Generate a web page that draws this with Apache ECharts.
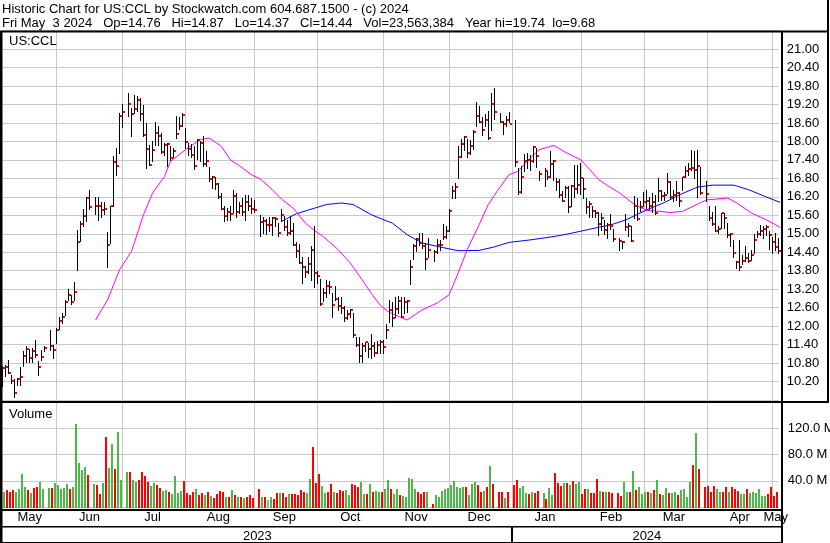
<!DOCTYPE html>
<html><head><meta charset="utf-8">
<script src="https://cdn.jsdelivr.net/npm/echarts@6/dist/echarts.min.js"></script>
<style>html,body{margin:0;padding:0;background:#fff;overflow:hidden;width:830px;height:543px}#c{width:870px;height:543px}</style>
</head><body><div id="c"></div>
<script>
// ---------- DATA ----------
const monthNames = ['Jan','Feb','Mar','Apr','May','Jun','Jul','Aug','Sep','Oct','Nov','Dec'];
const firstDay = [2023, 4, 8];   // May 8 2023
const lastDay = [2024, 4, 3];    // May 3 2024
const holidays = ['2023-05-29','2023-06-19','2023-07-04','2023-09-04','2023-11-23','2023-12-25','2024-01-01','2024-01-15','2024-02-19','2024-03-29'];

const high = [10.69,10.74,10.90,10.40,10.28,10.33,10.67,11.18,11.36,11.25,11.28,11.55,10.87,11.23,11.37,null,11.88,11.39,11.93,12.29,
12.42,12.85,13.20,13.02,13.42,15.13,15.40,15.80,16.21,16.43,null,16.19,16.19,16.02,16.04,15.06,15.91,17.53,17.78,18.92,
19.22,null,19.57,19.08,19.52,19.46,19.41,19.19,18.60,17.89,18.02,18.62,18.49,18.27,17.95,17.95,17.84,17.78,18.83,18.79,
18.92,18.43,17.95,17.92,17.84,18.08,18.00,18.18,17.68,17.17,16.88,16.86,16.65,16.32,15.91,15.83,15.89,16.43,16.32,16.04,
16.15,16.27,16.27,16.16,16.10,null,15.62,15.56,15.48,15.56,15.54,15.56,15.35,15.80,15.58,15.45,15.58,15.35,14.72,14.67,
14.26,13.94,14.26,14.59,15.26,13.78,13.53,13.23,13.50,13.47,13.07,13.31,12.96,12.96,12.64,12.53,12.55,12.42,11.66,11.64,
11.45,11.50,11.45,11.74,11.50,11.52,11.55,11.55,12.06,12.85,12.77,12.96,12.98,12.96,12.96,12.85,14.15,14.67,14.86,15.02,
15.02,14.70,14.86,null,14.48,14.83,14.80,15.32,15.24,15.80,16.56,16.65,17.86,18.08,18.18,18.08,18.06,18.36,19.27,19.14,
18.79,18.90,18.98,19.57,19.74,null,18.92,18.65,18.83,18.94,null,18.70,17.13,17.21,17.60,17.62,17.57,17.86,17.78,17.05,
null,17.13,17.00,17.68,17.40,16.81,16.78,16.38,16.54,16.54,16.59,17.24,17.24,17.30,16.81,16.16,16.05,15.89,15.78,15.72,
15.67,15.45,15.35,15.65,15.15,null,14.86,14.75,15.65,15.35,15.24,16.23,16.16,16.05,16.37,16.43,16.21,16.32,16.27,16.81,
16.43,16.35,16.97,16.70,16.43,16.70,16.37,16.86,17.21,17.30,17.71,17.68,17.73,17.17,null,16.70,15.91,15.72,15.89,15.24,
15.67,15.69,15.35,15.02,14.80,14.10,14.80,14.32,14.59,14.37,14.46,15.00,15.08,15.29,15.24,15.29,15.10,14.91,15.02,14.87];

const low = [10.04,10.38,10.47,10.15,9.69,10.09,10.08,10.69,10.82,10.82,10.82,11.01,10.41,10.90,11.20,null,11.23,10.96,11.45,11.90,
12.10,12.37,12.85,12.72,12.85,13.83,14.75,15.24,15.40,15.82,null,15.65,15.45,15.56,15.63,13.92,14.70,15.91,16.90,17.64,
18.47,null,18.83,18.16,18.92,18.98,18.70,18.18,17.13,17.24,17.35,17.89,17.89,17.62,17.57,17.21,17.40,17.49,18.11,18.40,
18.51,17.78,17.57,17.49,17.10,17.43,17.35,17.21,17.19,16.70,16.48,16.47,16.16,15.80,15.40,15.45,15.45,15.67,15.56,15.67,
15.62,15.45,15.78,15.69,15.72,null,14.93,15.02,15.00,15.08,14.97,15.24,14.93,15.40,15.13,14.97,15.00,14.64,14.26,14.05,
13.40,13.61,13.72,13.50,13.27,13.40,12.68,12.80,12.96,13.07,12.29,12.85,12.53,12.42,12.18,12.23,12.29,11.66,11.34,10.85,
10.85,11.18,11.01,10.96,11.03,11.12,11.12,11.12,11.61,12.15,12.01,12.31,12.44,12.29,12.42,12.45,13.37,14.17,14.43,14.64,
14.53,13.86,14.26,null,14.13,14.37,14.46,14.83,14.86,15.08,16.16,16.16,16.80,17.51,17.73,17.48,17.60,17.75,18.49,18.62,
18.22,18.49,18.08,18.36,18.73,null,18.62,18.25,18.49,18.62,null,17.21,16.30,16.32,17.03,17.13,17.08,17.32,17.17,16.75,
null,16.54,16.78,16.84,16.75,16.43,16.21,16.05,16.21,15.72,15.90,16.21,16.32,16.29,16.16,15.67,15.56,15.56,15.54,14.97,
15.13,15.00,14.86,15.15,14.78,null,14.46,14.53,15.13,14.93,14.75,15.50,15.45,15.75,15.89,15.83,15.80,15.72,15.65,16.05,
16.10,16.10,16.32,16.16,16.05,16.10,15.89,16.43,16.86,16.92,17.08,16.81,16.19,16.30,null,16.08,15.45,15.30,15.08,15.02,
15.18,15.18,14.91,14.59,14.26,13.88,13.81,14.02,14.10,14.07,14.15,14.37,14.91,14.97,14.86,14.97,14.50,14.37,14.48,14.37];

const close = [10.63,10.67,10.49,10.23,9.84,10.29,10.36,11.03,11.27,10.95,11.20,11.06,10.67,11.01,11.28,null,11.37,11.24,11.86,12.18,
12.31,12.77,13.02,12.77,13.10,14.72,15.32,15.58,16.15,15.86,null,15.91,15.89,15.76,15.82,14.62,15.89,17.32,17.19,18.83,
18.96,null,19.22,18.88,19.05,19.33,18.90,18.22,17.76,17.24,17.73,18.26,18.16,17.66,17.89,17.93,17.47,17.68,18.23,18.51,
18.85,17.99,17.75,17.57,17.19,18.03,17.95,17.27,17.38,16.79,16.83,16.61,16.18,15.82,15.58,15.71,15.65,16.23,15.71,15.91,
15.71,16.04,15.89,15.82,15.76,null,15.37,15.43,15.29,15.29,15.50,15.48,15.03,15.62,15.21,15.03,15.08,14.65,14.43,14.06,
13.91,13.76,14.01,14.46,13.74,13.63,12.72,13.09,13.31,13.26,12.70,12.89,12.66,12.59,12.26,12.38,12.51,11.70,11.39,11.03,
11.37,11.47,11.27,11.37,11.14,11.39,11.47,11.31,11.89,12.53,12.28,12.57,12.80,12.29,12.79,12.81,13.91,14.59,14.83,14.70,
14.59,14.19,14.48,null,14.41,14.62,14.65,14.91,15.08,15.75,16.38,16.51,17.48,17.92,18.13,17.64,17.84,18.29,18.81,18.62,
18.38,18.70,18.10,19.20,18.94,null,18.62,18.56,18.68,18.55,null,17.32,16.36,16.86,17.36,17.40,17.38,17.81,17.53,16.95,
null,17.03,16.86,17.27,17.35,16.67,16.27,16.08,16.48,15.87,16.56,16.46,16.59,16.80,16.45,15.86,15.97,15.73,15.69,15.32,
15.51,15.13,15.28,15.24,14.83,null,14.78,14.72,15.22,15.26,14.78,15.91,15.48,15.86,16.02,16.08,15.89,16.02,15.67,16.38,
16.23,16.25,16.68,16.19,16.27,16.32,16.08,16.86,17.03,17.10,17.13,17.06,17.19,16.34,null,16.29,15.51,15.32,15.08,15.14,
15.67,15.51,14.96,14.99,14.37,14.07,13.91,14.12,14.21,14.12,14.32,14.80,15.00,15.10,15.16,15.22,14.95,14.72,14.58,14.44];

// volume in millions of shares
const volume = [28.0,23.5,26.1,23.5,26.1,23.5,27.7,50.9,30.8,26.1,21.5,29.2,30.8,38.5,27.7,null,29.2,29.2,36.9,33.8,
27.7,29.2,35.4,27.7,30.8,126.7,66.4,57.1,61.7,49.3,null,35.4,33.8,19.9,36.9,106.6,60.2,95.7,58.6,114.3,
41.6,null,54.0,54.0,41.6,38.5,41.6,54.0,47.8,38.5,32.3,36.9,33.8,29.2,24.6,26.1,23.0,19.9,47.8,21.5,
24.6,40.0,21.5,18.4,23.0,27.7,18.4,21.5,18.4,23.0,16.8,13.7,19.9,24.6,23.0,15.3,15.3,26.1,18.4,15.3,
15.3,13.7,15.3,18.4,13.7,null,27.7,15.3,15.3,10.6,15.3,12.2,21.5,21.5,21.5,15.3,19.9,19.9,19.9,18.4,
26.1,23.0,21.5,43.1,91.1,36.9,50.9,32.3,21.5,23.0,35.4,23.0,21.5,26.1,24.6,26.1,18.4,35.4,33.8,30.8,
38.5,19.9,19.9,35.4,23.0,24.6,23.0,23.0,27.7,41.6,27.7,19.9,27.7,18.4,16.8,15.3,44.7,43.1,27.7,23.0,
19.9,23.0,23.0,null,4.4,18.4,15.3,24.6,27.7,29.2,33.8,40.0,30.8,29.2,30.8,30.8,18.4,35.4,38.5,33.8,
23.0,24.6,30.8,61.9,35.4,null,23.0,23.0,13.7,23.0,null,33.8,41.6,29.2,32.3,21.5,20.0,23.0,22.0,24.0,
null,21.5,12.2,29.2,18.4,52.4,36.9,32.3,36.9,36.9,33.8,40.0,35.4,38.5,20.0,27.0,27.0,22.0,22.0,42.6,
24.6,23.0,23.0,23.0,21.5,null,21.5,17.0,37.4,23.0,23.0,54.2,26.0,30.8,20.0,23.0,23.0,21.5,26.0,41.6,
20.0,18.4,29.2,21.5,21.5,23.0,18.4,26.0,27.7,15.3,38.5,63.5,112.3,58.6,null,30.8,32.3,23.0,32.3,27.0,
23.0,23.0,30.8,23.0,30.8,27.0,24.6,20.0,20.0,27.0,21.5,23.0,21.5,27.0,16.8,16.8,20.0,30.8,16.8,23.6];

// moving averages: [bar index, price]
const maShort = [[31,12.20],[34.7,12.85],[38.9,13.83],[42.5,14.43],[44.7,15.02],[46.9,15.62],[50.3,16.32],[53.6,16.86],[56.4,17.35],
[60.8,17.73],[65.9,18.06],[69.2,18.11],[72.5,17.84],[75.9,17.40],[79.2,17.21],[83.1,16.92],[86.4,16.78],[89.8,16.43],[93.1,16.13],
[96.5,15.83],[100.9,15.35],[104.2,15.11],[107,14.91],[111.5,14.48],[115.9,14.05],[120.4,13.50],[123.2,13.07],[126,12.68],[129.3,12.45],
[134.8,12.20],[140.4,12.53],[145.4,12.75],[148.7,13.02],[152.1,13.72],[155.4,14.48],[158.7,15.29],[162.1,15.94],[164.9,16.38],
[168.8,16.92],[171.6,17.03],[174.9,17.35],[179.3,17.73],[184.3,17.87],[188.2,17.64],[192.7,17.40],[196,17.08],[199.4,16.75],
[201.6,16.56],[206.1,16.32],[210.5,15.94],[215,15.76],[218.9,15.73],[222.7,15.69],[226.6,15.73],[231.6,15.97],[235,16.10],
[241.7,16.16],[245,16.00],[250.3,15.67],[255.3,15.45],[259.6,15.18]];
const maLong = [[93.1,15.40],[98.1,15.65],[103.7,15.83],[108.1,15.95],[112.6,16.00],[117,15.95],[122.6,15.62],[126,15.50],[130.4,15.35],
[134.8,14.97],[140.4,14.70],[146,14.57],[151.5,14.45],[159.3,14.46],[163.8,14.57],[168.8,14.72],[176,14.80],[183.8,14.91],[189.4,15.00],
[196,15.15],[202.7,15.29],[208.3,15.45],[215,15.78],[220.5,16.02],[226.1,16.27],[231.6,16.52],[237.2,16.58],[244.4,16.58],
[249.4,16.43],[255,16.19],[259.6,16.00]];

const headerLine1 = 'Historic Chart for US:CCL by Stockwatch.com 604.687.1500 - (c) 2024';
const headerLine2 = 'Fri May  3 2024   Op=14.76   Hi=14.87   Lo=14.37   Cl=14.44   Vol=23,563,384   Year hi=19.74  lo=9.68';
const symbolLabel = 'US:CCL';
const volumeLabel = 'Volume';

// ---------- BUILD ----------
const dates = [];
for (let t = Date.UTC(...firstDay); t <= Date.UTC(...lastDay); t += 86400000) {
  const d = new Date(t); const w = d.getUTCDay();
  if (w === 0 || w === 6) continue;
  dates.push(d.toISOString().slice(0, 10));
}
const monthStart = new Set(), monthMid = new Set(), yearMid = new Set(), yearStart = new Set();
(function () {
  const groups = {}, ygroups = {};
  dates.forEach((d, i) => {
    const m = d.slice(0, 7), y = d.slice(0, 4);
    (groups[m] = groups[m] || []).push(i);
    (ygroups[y] = ygroups[y] || []).push(i);
  });
  Object.values(groups).forEach(a => { if (a[0] > 0) monthStart.add(a[0]); monthMid.add(Math.round((a[0] + a[a.length - 1]) / 2)); });
  Object.values(ygroups).forEach(a => { if (a[0] > 0) yearStart.add(a[0]); yearMid.add(Math.round((a[0] + a[a.length - 1]) / 2)); });
})();

const barData = [], volData = [];
let prev = null;
dates.forEach((d, i) => {
  if (high[i] == null) return;
  barData.push([i, high[i], low[i], close[i]]);
  const dir = prev == null ? 0 : (close[i] > prev ? 1 : (close[i] < prev ? -1 : 0));
  volData.push([i, volume[i], dir]);
  prev = close[i];
});

const FONT = '"Liberation Sans", Arial, sans-serif';
const GRID_COLOR = '#c8c8c8';
const W = 870;
const chart = echarts.init(document.getElementById('c'), null, { renderer: 'canvas' });

const option = {
  animation: false,
  backgroundColor: '#fff',
  grid: [
    { left: 2.7, right: W - 778.7, top: 30.6, height: 369.4, show: false },
    { left: 2.7, right: W - 778.7, top: 402.1, height: 104.9, show: false }
  ],
  xAxis: [
    { type: 'category', gridIndex: 0, data: dates, boundaryGap: false,
      axisLine: { show: false }, axisTick: { show: false }, axisLabel: { show: false },
      splitLine: { show: true, interval: (i) => monthStart.has(i), lineStyle: { color: GRID_COLOR, width: 1 } } },
    { type: 'category', gridIndex: 1, data: dates, boundaryGap: false,
      axisLine: { show: false }, axisTick: { show: false },
      axisLabel: { show: true, interval: (i) => monthMid.has(i), formatter: (v) => monthNames[+v.slice(5, 7) - 1],
        margin: 4, fontSize: 13, fontFamily: FONT, color: '#000' },
      splitLine: { show: true, interval: (i) => monthStart.has(i), lineStyle: { color: GRID_COLOR, width: 1 } } },
    { type: 'category', gridIndex: 1, data: dates, boundaryGap: false, position: 'bottom', offset: 19,
      axisLine: { show: false },
      axisTick: { show: true, interval: (i) => yearStart.has(i), length: 16, lineStyle: { color: '#000', width: 2 } },
      axisLabel: { show: true, interval: (i) => yearMid.has(i), formatter: (v) => v.slice(0, 4),
        margin: 4, fontSize: 13, fontFamily: FONT, color: '#000' },
      splitLine: { show: false } }
  ],
  yAxis: [
    { type: 'value', gridIndex: 0, position: 'right', min: 9.6, max: 21.6, interval: 0.6,
      axisLine: { show: false }, axisTick: { show: false },
      axisLabel: { showMinLabel: false, showMaxLabel: false, formatter: (v) => v.toFixed(2), margin: 8,
        fontSize: 13, fontFamily: FONT, color: '#000' },
      splitLine: { show: true, lineStyle: { color: GRID_COLOR, width: 1 } } },
    { type: 'value', gridIndex: 1, position: 'right', min: 0, max: 160, interval: 40,
      axisLine: { show: false }, axisTick: { show: false },
      axisLabel: { showMinLabel: false, showMaxLabel: false, formatter: (v) => v.toFixed(1) + ' M', margin: 9,
        fontSize: 13, fontFamily: FONT, color: '#000' },
      splitLine: { show: true, lineStyle: { color: GRID_COLOR, width: 1 } } }
  ],
  series: [
    { type: 'line', xAxisIndex: 0, yAxisIndex: 0, data: maLong, symbol: 'none', smooth: false,
      lineStyle: { color: '#0000ff', width: 1 }, z: 2 },
    { type: 'line', xAxisIndex: 0, yAxisIndex: 0, data: maShort, symbol: 'none', smooth: false,
      lineStyle: { color: '#ff00ff', width: 1 }, z: 2 },
    { type: 'custom', xAxisIndex: 0, yAxisIndex: 0, data: barData, z: 3,
      encode: { x: 0, y: [1, 2, 3] },
      renderItem: function (params, api) {
        const i = api.value(0);
        const ph = api.coord([i, api.value(1)]), pl = api.coord([i, api.value(2)]), pc = api.coord([i, api.value(3)]);
        const x = Math.floor(ph[0]);
        return { type: 'group', children: [
          { type: 'line', shape: { x1: x + 0.5, y1: Math.round(ph[1]), x2: x + 0.5, y2: Math.round(pl[1]) + 1 },
            style: { stroke: '#000', lineWidth: 1 } },
          { type: 'rect', shape: { x: x + 1, y: Math.round(pc[1]) - 1, width: 2, height: 2 },
            style: { fill: '#ff0000' } }
        ] };
      } },
    { type: 'custom', xAxisIndex: 1, yAxisIndex: 1, data: volData, z: 3,
      encode: { x: 0, y: 1 },
      renderItem: function (params, api) {
        const i = api.value(0), dir = api.value(2);
        const p1 = api.coord([i, api.value(1)]), p0 = api.coord([i, 0]);
        const x = Math.floor(p1[0]);
        const col = dir > 0 ? '#4cb848' : (dir < 0 ? '#ff0000' : '#a8a8a8');
        return { type: 'rect', shape: { x: x - 2, y: Math.round(p1[1]), width: 2, height: Math.round(p0[1]) + 1 - Math.round(p1[1]) },
          style: { fill: col } };
      } }
  ],
  graphic: [
    { type: 'text', z: 10, style: { text: headerLine1, x: 2, y: 9, font: '13px ' + FONT, fill: '#000', verticalAlign: 'middle' } },
    { type: 'text', z: 10, style: { text: headerLine2, x: 2, y: 23, font: '13px ' + FONT, fill: '#000', verticalAlign: 'middle' } },
    { type: 'text', z: 10, style: { text: symbolLabel, x: 9, y: 41, font: '13px ' + FONT, fill: '#000', verticalAlign: 'middle' } },
    { type: 'text', z: 10, style: { text: volumeLabel, x: 9, y: 414, font: '13px ' + FONT, fill: '#000', verticalAlign: 'middle' } },
    // frame
    { type: 'rect', z: 20, shape: { x: 0, y: 30.5, width: 829, height: 2 }, style: { fill: '#000' } },
    { type: 'rect', z: 20, shape: { x: 0, y: 31, width: 2.5, height: 512 }, style: { fill: '#000' } },
    { type: 'rect', z: 20, shape: { x: 781, y: 31, width: 2, height: 512 }, style: { fill: '#000' } },
    { type: 'rect', z: 20, shape: { x: 827, y: 0, width: 2, height: 403 }, style: { fill: '#000' } },
    { type: 'rect', z: 20, shape: { x: 0, y: 401, width: 829, height: 2 }, style: { fill: '#000' } },
    { type: 'rect', z: 20, shape: { x: 0, y: 509, width: 783, height: 2 }, style: { fill: '#000' } },
    { type: 'rect', z: 20, shape: { x: 0, y: 526, width: 783, height: 1.5 }, style: { fill: '#000' } },
    { type: 'rect', z: 20, shape: { x: 0, y: 542, width: 783, height: 1 }, style: { fill: '#000' } }
  ]
};
chart.setOption(option);
</script>
</body></html>
